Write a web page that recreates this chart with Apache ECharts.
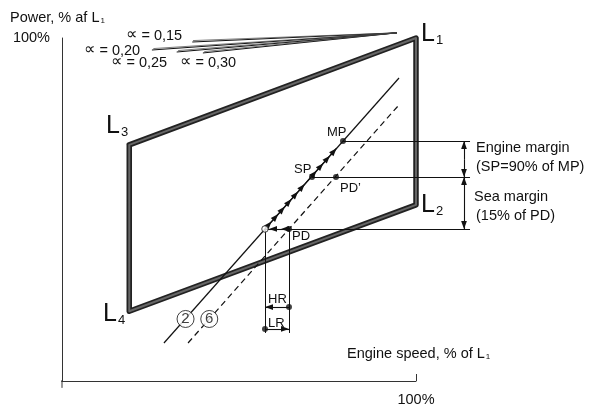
<!DOCTYPE html>
<html><head><meta charset="utf-8">
<script src="https://cdn.jsdelivr.net/npm/echarts@6/dist/echarts.min.js"></script>
<style>html,body{margin:0;padding:0;background:#fff}#c{width:595px;height:408px}</style>
</head><body><div id="c"></div>
<script>
// ---------- data (engine speed %, power %) ----------
const speedTicks = [100];
const powerTicks = [100];
const axisStub = [[48.7, 40], [50, 40], [50, 38.8]];

// layout frame: L3 -> L1 -> L2 -> L4 -> L3
const frameSpeed = [59.5, 100, 100, 59.5, 59.5];
const framePower = [81.3, 100, 70.8, 52.2, 81.3];

// constant-alpha lines (start points), all meeting near L1
const alphaNames = ['∝ = 0,15', '∝ = 0,20', '∝ = 0,25', '∝ = 0,30'];
const alphaStart = [[68.4, 99.3], [62.7, 97.9], [66.2, 97.55], [69.9, 97.38]];
const alphaStartTwin = [[68.5, 99.55], [62.9, 98.15], [66.4, 97.8], [70.1, 97.63]];
const alphaEnd = [97.3, 100.9];

// propeller curves
const line2 = [[64.4, 46.65], [97.6, 93.0]];
const line6 = [[67.8, 46.65], [97.6, 88.3]];

// operating points
const MP = [89.69, 81.98];
const SP = [85.31, 75.69];
const PDp = [88.70, 75.69];
const PD = [82.06, 66.59];
const OP = [78.67, 66.59];
const hrPower = 52.94;
const lrPower = 49.1;
const dropPower = 48.4;
const dimSpeed = 106.78;
const refEndSpeed = 107.63;
const engineMid = 78.8;
const seaMid = 71.14;

// arrow chain along curve 2 (from OP up to MP)
const chain2 = [OP, [79.60, 67.90], [80.55, 69.21], [81.48, 70.51], [82.42, 71.82], [83.36, 73.13],
  [84.29, 74.44], [85.97, 76.79], [86.91, 78.10], [87.85, 79.41], [88.78, 80.72]];
const chainPD = [PD, [80.93, 66.59], [79.24, 66.59]];

const curveLabels = [{ name: '2', value: [67.45, 50.85] }, { name: '6', value: [70.8, 50.85] }];

// ---------- chart ----------
const FONT = "'Liberation Sans', Arial, Helvetica, sans-serif";
const INK = '#111';
const ARROW = 'path://M-10,-10M10,10M0,0L3.6,10L-3.6,10Z';

const frameData = frameSpeed.map((s, i) => [s, framePower[i]]);

const arrowSegs = [];
for (let i = 1; i < chain2.length; i++) arrowSegs.push({ coords: [chain2[i - 1], chain2[i]] });
for (let i = 1; i < chainPD.length; i++) arrowSegs.push({ coords: [chainPD[i - 1], chainPD[i]] });
arrowSegs.push({ coords: [[dimSpeed, engineMid], [dimSpeed, MP[1]]] });
arrowSegs.push({ coords: [[dimSpeed, engineMid], [dimSpeed, SP[1]]] });
arrowSegs.push({ coords: [[dimSpeed, seaMid], [dimSpeed, SP[1]]] });
arrowSegs.push({ coords: [[dimSpeed, seaMid], [dimSpeed, PD[1]]] });
arrowSegs.push({ coords: [[PD[0], hrPower], [OP[0], hrPower]] });
arrowSegs.push({ coords: [[OP[0], lrPower], [PD[0], lrPower]] });

const refSegs = [
  { coords: [MP, [refEndSpeed, MP[1]]] },
  { coords: [SP, [refEndSpeed, SP[1]]] },
  { coords: [OP, [refEndSpeed, OP[1]]] },
  { coords: [OP, [OP[0], dropPower]] },
  { coords: [PD, [PD[0], dropPower]] }
];

function txt(x, y, text, size) {
  return { type: 'text', x: x, y: y, silent: true, z: 100,
    style: { text: text, fill: INK, font: size + 'px ' + FONT, align: 'left', verticalAlign: 'middle', textAlign: 'left', textVerticalAlign: 'middle' } };
}
function rtxt(x, y, text, rich) {
  return { type: 'text', x: x, y: y, silent: true, z: 100,
    style: { text: text, rich: rich, fill: INK, font: '14px ' + FONT, align: 'left', verticalAlign: 'middle', textAlign: 'left', textVerticalAlign: 'middle' } };
}
const subRich = {
  m: { fontSize: 14.5, fontFamily: FONT, fill: INK, color: INK, lineHeight: 16, verticalAlign: 'bottom' },
  s: { fontSize: 8, fontFamily: FONT, fill: INK, color: INK, lineHeight: 6, verticalAlign: 'bottom', padding: [0, 0, 0, 1] }
};
const LRich = {
  L: { fontSize: 25, fontFamily: FONT, fill: INK, color: INK, lineHeight: 25, verticalAlign: 'bottom' },
  n: { fontSize: 13, fontFamily: FONT, fill: INK, color: INK, lineHeight: 3, verticalAlign: 'bottom', padding: [0, 0, 0, 1] }
};
const aRich = {
  a: { fontSize: 16, fontFamily: "'DejaVu Sans', sans-serif", fill: INK, color: INK, lineHeight: 16, verticalAlign: 'bottom' },
  b: { fontSize: 14.5, fontFamily: FONT, fill: INK, color: INK, lineHeight: 16, verticalAlign: 'bottom' }
};
function alphaText(i) { return '{a|∝}{b|' + alphaNames[i].slice(1) + '}'; }

const graphics = [
  rtxt(10, 17, '{m|Power, % af L}{s|1}', subRich),
  rtxt(126, 35, alphaText(0), aRich),
  rtxt(84, 50, alphaText(1), aRich),
  rtxt(111, 62, alphaText(2), aRich),
  rtxt(180, 62, alphaText(3), aRich),
  rtxt(421, 34, '{L|L}{n|1}', LRich),
  rtxt(421, 205, '{L|L}{n|2}', LRich),
  rtxt(106, 126.5, '{L|L}{n|3}', LRich),
  rtxt(103, 314, '{L|L}{n|4}', LRich),
  txt(327, 132.5, 'MP', 13),
  txt(294, 169.5, 'SP', 13),
  txt(340, 188, 'PD’', 13),
  txt(292, 236.5, 'PD', 13),
  txt(268, 299, 'HR', 13),
  txt(268, 323, 'LR', 13),
  txt(476, 148, 'Engine margin', 14.5),
  txt(476, 167, '(SP=90% of MP)', 14.5),
  txt(474, 197, 'Sea margin', 14.5),
  txt(476, 216, '(15% of PD)', 14.5),
  rtxt(347, 353, '{m|Engine speed, % of L}{s|1}', subRich)
];

const option = {
  animation: false,
  backgroundColor: '#fff',
  grid: { left: 62, right: 179, top: 38, bottom: 27 },
  xAxis: {
    type: 'value', min: 50, max: 100,
    axisLine: { show: true, onZero: false, lineStyle: { color: '#333', width: 1 } },
    axisTick: { show: true, inside: true, length: 7, customValues: speedTicks, lineStyle: { color: '#333' } },
    axisLabel: { customValues: speedTicks, formatter: v => v + '%', margin: 11, fontSize: 14.5, color: INK, fontFamily: FONT },
    splitLine: { show: false }
  },
  yAxis: {
    type: 'value', min: 40, max: 100,
    axisLine: { show: true, onZero: false, lineStyle: { color: '#333', width: 1 } },
    axisTick: { show: false },
    axisLabel: { customValues: powerTicks, formatter: v => v + '%', margin: 12, fontSize: 14.5, color: INK, fontFamily: FONT },
    splitLine: { show: false }
  },
  graphic: graphics,
  series: [
    { type: 'line', data: axisStub, symbol: 'none', clip: false, silent: true, z: 1, lineStyle: { color: '#333', width: 1 } },
    { type: 'line', data: frameData, symbol: 'none', clip: false, silent: true, z: 2, lineStyle: { color: '#222', width: 5.5, join: 'round', cap: 'round' } },
    { type: 'line', data: frameData, symbol: 'none', clip: false, silent: true, z: 3, lineStyle: { color: '#666', width: 2, join: 'round', cap: 'round' } },
    { type: 'lines', coordinateSystem: 'cartesian2d', clip: false, silent: true, z: 4, symbol: 'none',
      data: alphaStart.map(s => ({ coords: [s, alphaEnd] })), lineStyle: { color: INK, width: 1, opacity: 1 } },
    { type: 'lines', coordinateSystem: 'cartesian2d', clip: false, silent: true, z: 4, symbol: 'none',
      data: alphaStartTwin.map(s => ({ coords: [s, alphaEnd] })), lineStyle: { color: '#444', width: 0.7, opacity: 1 } },
    { type: 'line', data: line2, symbol: 'none', clip: false, silent: true, z: 5, lineStyle: { color: INK, width: 1.2 } },
    { type: 'line', data: line6, symbol: 'none', clip: false, silent: true, z: 5, lineStyle: { color: INK, width: 1.2, type: [6, 4] } },
    { type: 'lines', coordinateSystem: 'cartesian2d', clip: false, silent: true, z: 5, symbol: 'none',
      data: refSegs, lineStyle: { color: INK, width: 1, opacity: 1 } },
    { type: 'lines', coordinateSystem: 'cartesian2d', clip: false, silent: true, z: 6, symbol: ['none', ARROW], symbolSize: 16,
      data: arrowSegs, lineStyle: { color: INK, width: 1.1, opacity: 1 } },
    { type: 'scatter', data: [MP, SP, PDp, PD, [PD[0], hrPower], [OP[0], lrPower]], symbolSize: 6, clip: false, silent: true, z: 7,
      itemStyle: { color: INK } },
    { type: 'scatter', data: [OP], symbolSize: 6.5, clip: false, silent: true, z: 8,
      itemStyle: { color: '#fff', borderColor: INK, borderWidth: 1 } },
    { type: 'scatter', data: curveLabels, symbolSize: 17, clip: false, silent: true, z: 8,
      itemStyle: { color: '#fff', borderColor: INK, borderWidth: 1 },
      label: { show: true, position: 'inside', formatter: '{b}', fontSize: 15, color: INK, fontFamily: FONT } }
  ]
};
const chart = echarts.init(document.getElementById('c'));
chart.setOption(option);
</script>
</body></html>
